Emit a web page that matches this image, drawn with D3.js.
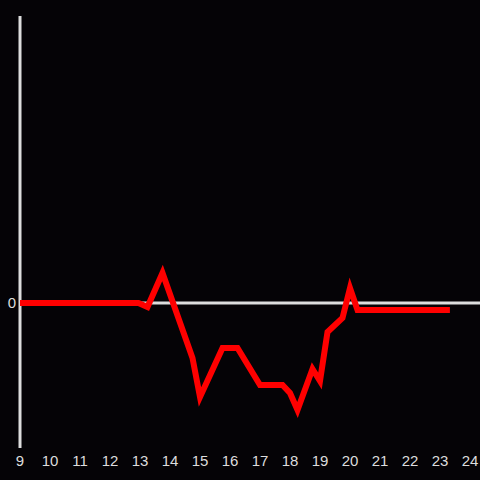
<!DOCTYPE html>
<html>
  <head>
    <meta charset="utf-8">
    <title>Line</title>
    <script src="https://d3js.org/d3.v7.min.js"></script>
    <style>
      body { margin: 0; background: #050306; }
      svg { display: block; }
      .lbl { fill: #dddddd; font-family: "Liberation Sans", Arial, sans-serif; font-size: 15px; }
    </style>
  </head>
  <body>
    <svg id="chart" width="480" height="480"></svg>
    <script>
      // data (hour of day, value)
      var hours = [9, 12.95, 13.25, 13.75, 14.75, 15, 15.75, 16.25, 17, 17.75, 18, 18.25, 18.75, 19, 19.25, 19.75, 20, 20.25, 23.33];
      var values = [0, 0, -4, 30, -55, -94, -45, -45, -82, -82, -90, -107, -66, -78, -29, -15, 15, -7, -7];
      var xTicks = d3.range(9, 25);
      var yTicks = [0];

      var svg = d3.select("#chart");
      svg.append("rect").attr("width", 480).attr("height", 480).attr("fill", "#050306");

      var x = d3.scaleLinear().domain([9, 24]).range([20, 470]);
      var y = d3.scaleLinear().domain([-145, 287]).range([448, 16]);

      // axes
      svg.append("line")
        .attr("x1", x(9)).attr("x2", x(9))
        .attr("y1", y(287)).attr("y2", y(-145))
        .attr("stroke", "#dddddd").attr("stroke-width", 3);
      svg.append("line")
        .attr("x1", x(9)).attr("x2", 480)
        .attr("y1", y(0)).attr("y2", y(0))
        .attr("stroke", "#dddddd").attr("stroke-width", 3);

      svg.selectAll(".xl")
          .data(xTicks)
        .enter().append("text")
          .attr("class", "lbl")
          .attr("x", function(d) { return x(d); })
          .attr("y", 466)
          .attr("text-anchor", "middle")
          .text(function(d) { return d; });

      svg.selectAll(".yl")
          .data(yTicks)
        .enter().append("text")
          .attr("class", "lbl")
          .attr("x", 16)
          .attr("y", function(d) { return y(d) + 5; })
          .attr("text-anchor", "end")
          .text(function(d) { return d; });

      var line = d3.line()
        .x(function(d, i) { return x(hours[i]); })
        .y(function(d) { return y(d); });

      svg.append("path")
        .attr("d", line(values))
        .attr("fill", "none")
        .attr("stroke", "#ff0000")
        .attr("stroke-width", 6)
        .attr("stroke-linejoin", "miter");
    </script>
  </body>
</html>
